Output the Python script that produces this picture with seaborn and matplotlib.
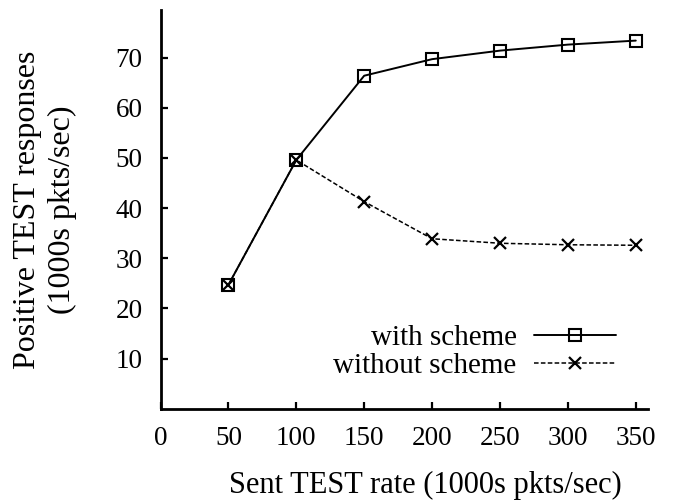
import matplotlib
matplotlib.use("Agg")
import matplotlib.pyplot as plt
import seaborn as sns
import pandas as pd

rates = [50, 100, 150, 200, 250, 300, 350]
with_scheme = [24.7, 49.6, 66.4, 69.7, 71.4, 72.6, 73.4]
without_scheme = [24.7, 49.6, 41.3, 33.9, 33.0, 32.7, 32.6]
x_ticks = [0, 50, 100, 150, 200, 250, 300, 350]
y_ticks = [10, 20, 30, 40, 50, 60, 70]

sns.set_theme(style="ticks")
plt.rcParams['font.family'] = ['Liberation Serif', 'DejaVu Serif']
plt.rcParams['font.size'] = 22
for k in ['text.color', 'axes.labelcolor', 'xtick.color', 'ytick.color', 'axes.edgecolor']:
    plt.rcParams[k] = 'black'

fig = plt.figure(figsize=(6.97, 5.04), dpi=100)
ax = fig.add_axes([160.5 / 697, 1 - 408.8 / 504, (648 - 160.5) / 697, (408.8 - 10) / 504])

df1 = pd.DataFrame({"x": rates, "y": with_scheme})
df2 = pd.DataFrame({"x": rates, "y": without_scheme})

sns.lineplot(data=df1, x="x", y="y", ax=ax, color="black", linewidth=1.4,
             marker="s", markersize=9, markerfacecolor="none",
             markeredgecolor="black", markeredgewidth=1.5, label="with scheme")
sns.lineplot(data=df2, x="x", y="y", ax=ax, color="black", linewidth=1.1,
             linestyle=(0, (3, 1.5)), marker="x", markersize=9,
             markeredgewidth=1.6, markeredgecolor="black", label="without scheme")

ax.set_xlim(0, 359)
ax.set_ylim(0, 79.5)
ax.set_xticks(x_ticks)
ax.set_yticks(y_ticks)
ax.tick_params(direction="in", length=5, width=1.6, labelsize=19.5,
               bottom=True, left=True, top=False, right=False)
ax.tick_params(axis="x", pad=12.5)
ax.tick_params(axis="y", pad=13)
for s in ["top", "right"]:
    ax.spines[s].set_visible(False)
for s in ["left", "bottom"]:
    ax.spines[s].set_linewidth(2)

ax.set_xlabel("Sent TEST rate (1000s pkts/sec)", fontsize=22, labelpad=14)
ax.xaxis.set_label_coords((425 - 160.5) / 487.5, -0.155)
ax.set_ylabel("Positive TEST responses\n(1000s pkts/sec)", fontsize=23, linespacing=1.25)
ax.yaxis.set_label_coords((77 - 160.5) / 487.5, 0.5)

leg = ax.legend(loc="lower right", bbox_to_anchor=(615 / 697 + 0.001, 1 - 379 / 504),
                bbox_transform=fig.transFigure, frameon=False, markerfirst=False,
                fontsize=21, handlelength=2.8, handletextpad=0.6, labelspacing=0.05,
                borderpad=0, borderaxespad=0)

fig.savefig("out.png", dpi=100)
